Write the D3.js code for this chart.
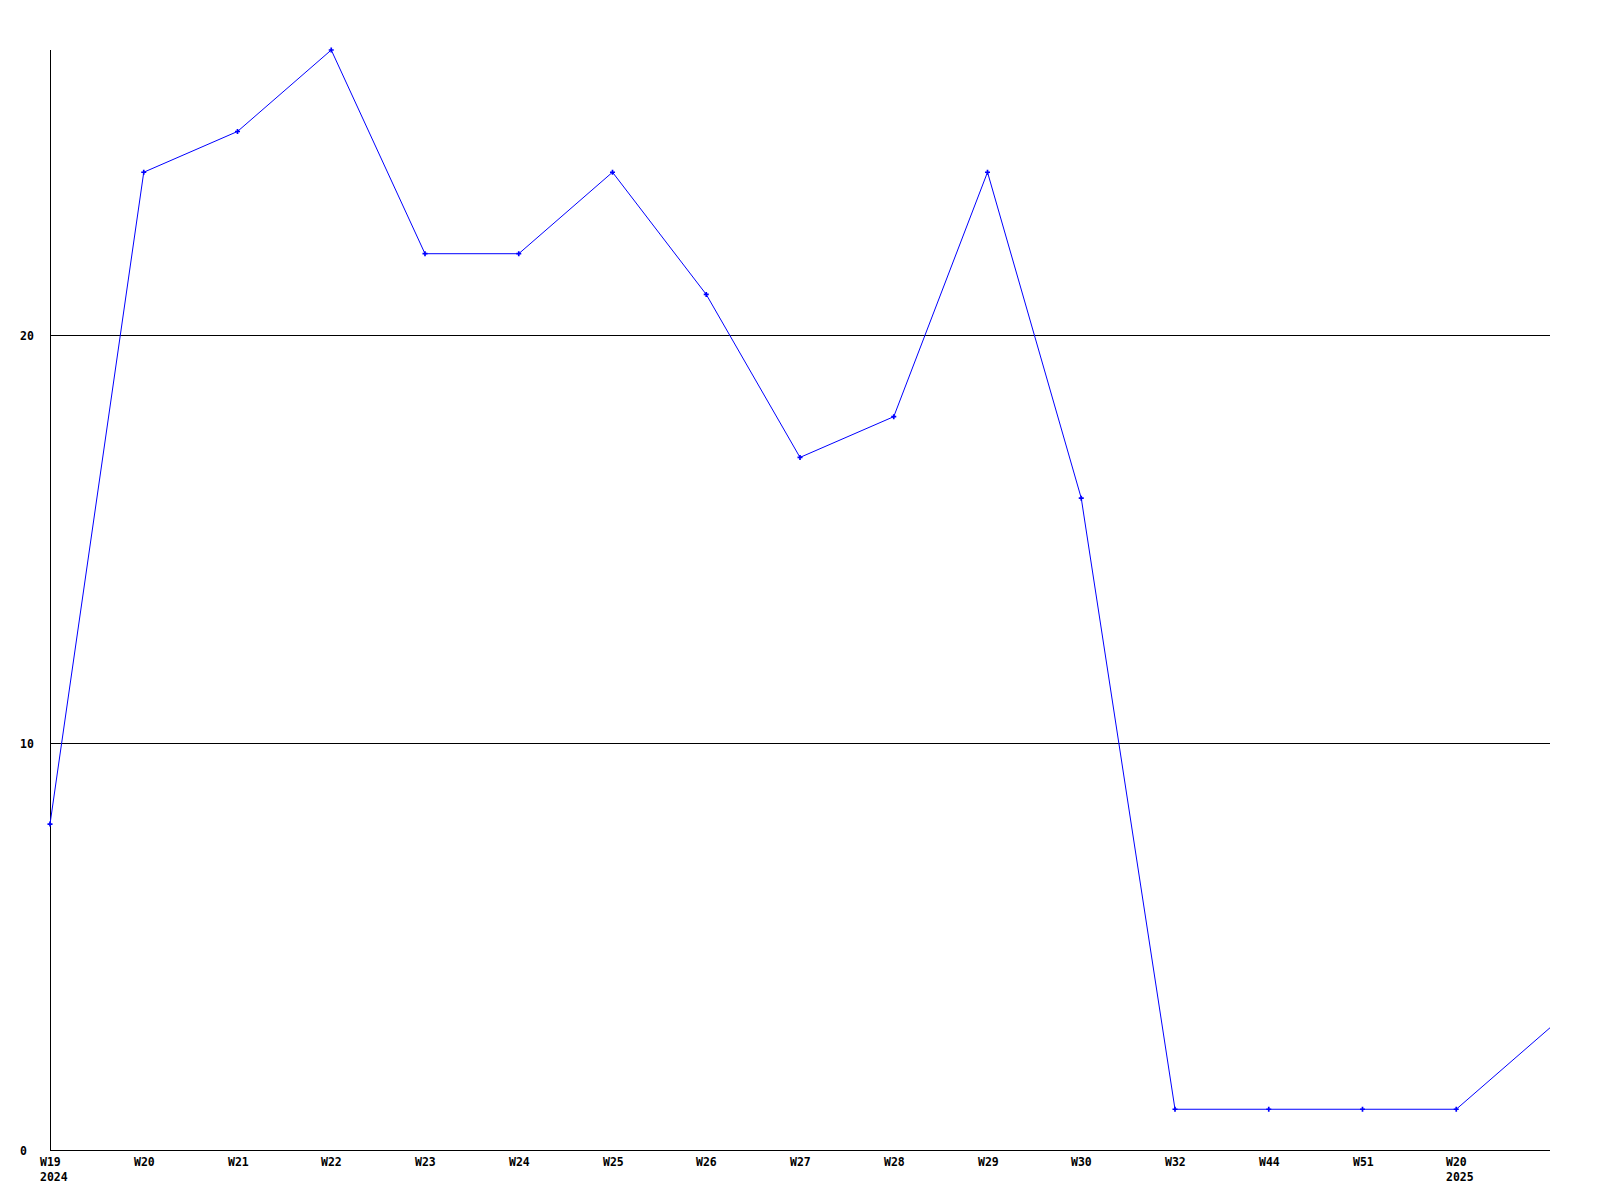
<!DOCTYPE html>
<html>
<head>
<meta charset="utf-8">
<script src="https://cdn.jsdelivr.net/npm/d3@7"></script>
<style>
  html, body { margin: 0; padding: 0; background: #fff; }
  svg text { font-family: "DejaVu Sans Mono", "Liberation Mono", monospace; font-weight: bold; font-size: 11.5px; fill: #000; }
</style>
</head>
<body>
<svg id="chart" width="1600" height="1200"></svg>
<script>
const weeks = ["W19", "W20", "W21", "W22", "W23", "W24", "W25", "W26", "W27", "W28", "W29", "W30", "W32", "W44", "W51", "W20", ""];
const years = ["2024", "", "", "", "", "", "", "", "", "", "", "", "", "", "", "2025", ""];
const values = [8, 24, 25, 27, 22, 22, 24, 21, 17, 18, 24, 16, 1, 1, 1, 1, 3];
const yTicks = [0, 10, 20];

const svg = d3.select("#chart");
const mLeft = 50, mRight = 1550, mTop = 50, mBottom = 1150;

const x = d3.scaleLinear().domain([0, values.length - 1]).range([mLeft, mRight]);
const y = d3.scaleLinear().domain([0, 27]).range([mBottom, mTop]);

// grid lines
svg.append("g").selectAll("line").data(yTicks.filter(d => d > 0)).join("line")
  .attr("x1", mLeft).attr("x2", mRight)
  .attr("y1", d => Math.round(y(d)) + 0.5).attr("y2", d => Math.round(y(d)) + 0.5)
  .attr("stroke", "#000").attr("stroke-width", 1);

// y labels
svg.append("g").selectAll("text").data(yTicks).join("text")
  .attr("x", 20).attr("y", d => Math.round(y(d)) + 1)
  .attr("dominant-baseline", "middle")
  .text(d => d);

// axes
svg.append("line").attr("x1", mLeft + 0.5).attr("x2", mLeft + 0.5).attr("y1", mTop).attr("y2", mBottom + 1)
  .attr("stroke", "#000");
svg.append("line").attr("x1", mLeft).attr("x2", mRight).attr("y1", mBottom + 0.5).attr("y2", mBottom + 0.5)
  .attr("stroke", "#000");

// x labels
const xl = svg.append("g");
xl.selectAll("text.wk").data(weeks).join("text").attr("class", "wk")
  .attr("x", (d, i) => Math.round(x(i)) - 10).attr("y", 1166)
  .text(d => d);
xl.selectAll("text.yr").data(years).join("text").attr("class", "yr")
  .attr("x", (d, i) => Math.round(x(i)) - 10).attr("y", 1181)
  .text(d => d);

// line
const line = d3.line().x((d, i) => x(i)).y(d => y(d));
svg.append("path").datum(values)
  .attr("d", line).attr("fill", "none").attr("stroke", "#0000ff").attr("stroke-width", 1);

// markers
svg.append("g").selectAll("path").data(values.slice(0, values.length - 1)).join("path")
  .attr("transform", (d, i) => `translate(${x(i)},${y(d)})`)
  .attr("d", d3.symbol(d3.symbolCross, 14))
  .attr("fill", "#0000ff");
</script>
</body>
</html>
